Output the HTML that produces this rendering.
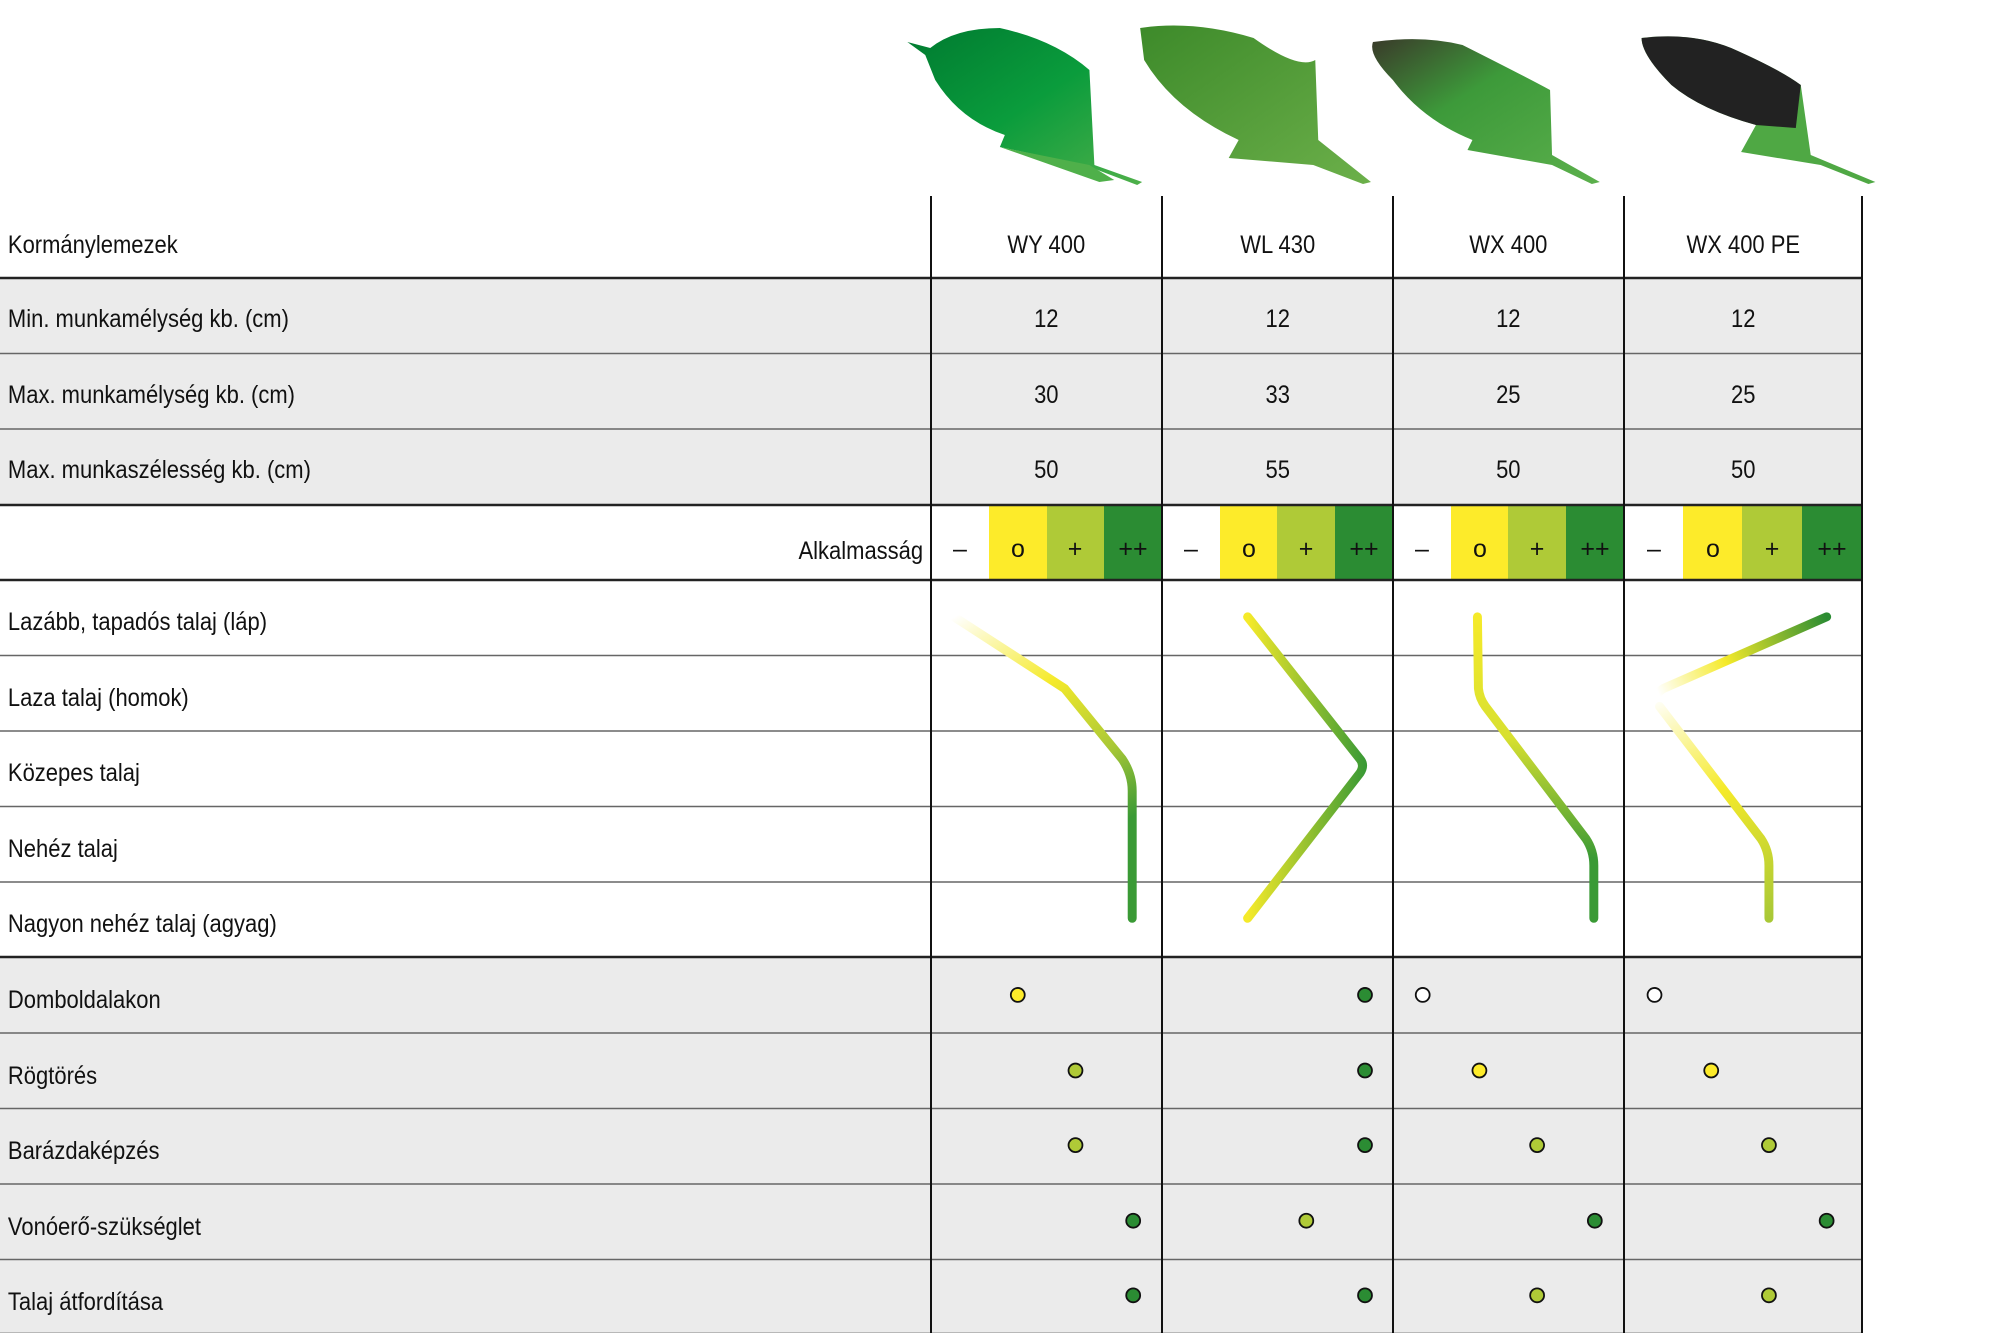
<!DOCTYPE html>
<html><head><meta charset="utf-8"><style>
html,body{margin:0;padding:0;background:#fff}
svg{display:block}
text{font-family:"Liberation Sans Narrow","Liberation Sans",sans-serif;font-size:25px;fill:#111}
</style></head><body>
<svg width="2000" height="1333" viewBox="0 0 2000 1333" xmlns="http://www.w3.org/2000/svg">
<defs>
<linearGradient id="g1" gradientUnits="userSpaceOnUse" x1="959" y1="620" x2="1138" y2="923"><stop offset="0" stop-color="#fff"/><stop offset="0.3" stop-color="#f5ea2a"/><stop offset="0.55" stop-color="#a9c836"/><stop offset="0.75" stop-color="#3a9a35"/></linearGradient>
<linearGradient id="g2" gradientUnits="userSpaceOnUse" x1="1254" y1="0" x2="1372" y2="0"><stop offset="0" stop-color="#f5ea2a"/><stop offset="1" stop-color="#3a9a35"/></linearGradient>
<linearGradient id="g3" gradientUnits="userSpaceOnUse" x1="0" y1="620" x2="0" y2="923"><stop offset="0" stop-color="#f5ea2a"/><stop offset="0.4" stop-color="#d8e030"/><stop offset="0.8" stop-color="#3a9a35"/></linearGradient>
<linearGradient id="g4a" gradientUnits="userSpaceOnUse" x1="1668" y1="699" x2="1836" y2="620"><stop offset="0" stop-color="#fff"/><stop offset="0.4" stop-color="#f5ea2a"/><stop offset="1" stop-color="#2b8c33"/></linearGradient>
<linearGradient id="g4b" gradientUnits="userSpaceOnUse" x1="1668" y1="699" x2="1778" y2="923"><stop offset="0" stop-color="#fff"/><stop offset="0.45" stop-color="#f5ea2a"/><stop offset="1" stop-color="#a9c836"/></linearGradient>
<linearGradient id="p1" x1="0" y1="0" x2="1" y2="1"><stop offset="0" stop-color="#007a30"/><stop offset="0.5" stop-color="#0a9c3c"/><stop offset="1" stop-color="#4fb04a"/></linearGradient>
<linearGradient id="p2" x1="0" y1="0" x2="1" y2="1"><stop offset="0" stop-color="#3d8a2a"/><stop offset="1" stop-color="#6cb04a"/></linearGradient>
<linearGradient id="p3" x1="0" y1="0" x2="1" y2="1"><stop offset="0" stop-color="#3a3a2a"/><stop offset="0.4" stop-color="#3d9a3a"/><stop offset="1" stop-color="#5cb04c"/></linearGradient>
</defs>
<!-- plows -->
<g transform="scale(0.9949,1)">
<path d="M912,42 L935,48 Q960,28 1005,28 Q1060,40 1095,70 L1100,165 L1148,182 L1143,185 L1090,165 L1005,147 L1010,135 Q965,120 940,80 L930,55 Z" fill="url(#p1)"/>
<path d="M1005,147 L1095,165 L1120,180 L1105,182 Z" fill="#4fb04a"/>
<path d="M1146,28 Q1200,20 1260,38 Q1305,70 1322,60 L1325,140 L1378,182 L1370,184 L1320,165 L1235,158 L1245,140 Q1180,110 1150,60 Z" fill="url(#p2)"/>
<path d="M1380,42 Q1430,35 1470,45 Q1530,75 1558,90 L1560,155 L1608,182 L1600,184 L1560,165 L1475,150 L1480,140 Q1430,120 1400,80 Q1375,55 1380,42 Z" fill="url(#p3)"/>
<path d="M1650,38 Q1700,32 1740,48 Q1790,70 1810,85 L1820,155 L1885,182 L1878,184 L1830,165 L1750,152 L1765,125 Q1710,110 1680,85 Q1650,55 1650,38 Z" fill="#4fa844"/>
<path d="M1650,38 Q1700,32 1740,48 Q1790,70 1810,85 L1805,128 L1765,125 Q1710,110 1680,85 Q1650,55 1650,38 Z" fill="#222"/>
</g>
<!-- backgrounds -->
<rect x="0" y="278" width="1862" height="227" fill="#ebebeb"/>
<rect x="0" y="957" width="1862" height="378" fill="#ebebeb"/>
<!-- suitability cells -->
<g>
<rect x="989" y="505" width="58" height="75" fill="#fdeb2a"/><rect x="1047" y="505" width="57" height="75" fill="#afca37"/><rect x="1104" y="505" width="58" height="75" fill="#2b8c33"/>
<rect x="1220" y="505" width="57" height="75" fill="#fdeb2a"/><rect x="1277" y="505" width="58" height="75" fill="#afca37"/><rect x="1335" y="505" width="58" height="75" fill="#2b8c33"/>
<rect x="1451" y="505" width="57" height="75" fill="#fdeb2a"/><rect x="1508" y="505" width="58" height="75" fill="#afca37"/><rect x="1566" y="505" width="58" height="75" fill="#2b8c33"/>
<rect x="1683" y="505" width="59" height="75" fill="#fdeb2a"/><rect x="1742" y="505" width="60" height="75" fill="#afca37"/><rect x="1802" y="505" width="60" height="75" fill="#2b8c33"/>
</g>
<!-- horizontal lines -->
<g stroke="#666" stroke-width="1.5">
<line x1="0" y1="353.5" x2="1862" y2="353.5"/><line x1="0" y1="429" x2="1862" y2="429"/>
<line x1="0" y1="655.5" x2="1862" y2="655.5"/><line x1="0" y1="731" x2="1862" y2="731"/><line x1="0" y1="806.5" x2="1862" y2="806.5"/><line x1="0" y1="882" x2="1862" y2="882"/>
<line x1="0" y1="1033" x2="1862" y2="1033"/><line x1="0" y1="1108.5" x2="1862" y2="1108.5"/><line x1="0" y1="1184" x2="1862" y2="1184"/><line x1="0" y1="1259.5" x2="1862" y2="1259.5"/>
</g>
<g stroke="#222" stroke-width="2.5">
<line x1="0" y1="278" x2="1862" y2="278"/><line x1="0" y1="505" x2="1862" y2="505"/><line x1="0" y1="580" x2="1862" y2="580"/><line x1="0" y1="957" x2="1862" y2="957"/><line x1="0" y1="1334" x2="1862" y2="1334"/>
</g>
<g stroke="#111" stroke-width="2">
<line x1="931" y1="196" x2="931" y2="1333"/><line x1="1162" y1="196" x2="1162" y2="1333"/><line x1="1393" y1="196" x2="1393" y2="1333"/><line x1="1624" y1="196" x2="1624" y2="1333"/><line x1="1862" y1="196" x2="1862" y2="1333"/>
</g>
<g transform="scale(0.9949)">
<!-- curves -->
<g fill="none" stroke-width="9" stroke-linecap="round" stroke-linejoin="round">
<path d="M959,620 L1070,692 L1128,763 Q1138,778 1138,795 L1138,923" stroke="url(#g1)"/>
<path d="M1254,620 L1367,763 Q1372,769 1367,777 L1254,923" stroke="url(#g2)"/>
<path d="M1485,620 L1486,692 Q1487,702 1493,710 L1594,843 Q1602,855 1602,870 L1602,923" stroke="url(#g3)"/>
<path d="M1836,620 L1672,692 Q1660,699 1668,710" stroke="url(#g4a)"/>
<path d="M1668,710 L1770,843 Q1778,855 1778,870 L1778,923" stroke="url(#g4b)"/>
</g>
<!-- dots -->
<g stroke="#111" stroke-width="1.8">
<circle cx="1023" cy="1000" r="7" fill="#fdeb2a"/><circle cx="1372" cy="1000" r="7" fill="#2b8c33"/><circle cx="1430" cy="1000" r="7" fill="#fff"/><circle cx="1663" cy="1000" r="7" fill="#fff"/>
<circle cx="1081" cy="1076" r="7" fill="#afca37"/><circle cx="1372" cy="1076" r="7" fill="#2b8c33"/><circle cx="1487" cy="1076" r="7" fill="#fdeb2a"/><circle cx="1720" cy="1076" r="7" fill="#fdeb2a"/>
<circle cx="1081" cy="1151" r="7" fill="#afca37"/><circle cx="1372" cy="1151" r="7" fill="#2b8c33"/><circle cx="1545" cy="1151" r="7" fill="#afca37"/><circle cx="1778" cy="1151" r="7" fill="#afca37"/>
<circle cx="1139" cy="1227" r="7" fill="#2b8c33"/><circle cx="1313" cy="1227" r="7" fill="#afca37"/><circle cx="1603" cy="1227" r="7" fill="#2b8c33"/><circle cx="1836" cy="1227" r="7" fill="#2b8c33"/>
<circle cx="1139" cy="1302" r="7" fill="#2b8c33"/><circle cx="1372" cy="1302" r="7" fill="#2b8c33"/><circle cx="1545" cy="1302" r="7" fill="#afca37"/><circle cx="1778" cy="1302" r="7" fill="#afca37"/>
</g>
</g>
<!-- texts -->
<g transform="scale(0.88,1)">
<text x="9" y="253">Kormánylemezek</text>
<text x="9" y="327">Min. munkamélység kb. (cm)</text>
<text x="9" y="403">Max. munkamélység kb. (cm)</text>
<text x="9" y="478">Max. munkaszélesség kb. (cm)</text>
<text x="1049" y="559" text-anchor="end">Alkalmasság</text>
<text x="9" y="630">Lazább, tapadós talaj (láp)</text>
<text x="9" y="706">Laza talaj (homok)</text>
<text x="9" y="781">Közepes talaj</text>
<text x="9" y="857">Nehéz talaj</text>
<text x="9" y="932">Nagyon nehéz talaj (agyag)</text>
<text x="9" y="1008">Domboldalakon</text>
<text x="9" y="1084">Rögtörés</text>
<text x="9" y="1159">Barázdaképzés</text>
<text x="9" y="1235">Vonóerő-szükséglet</text>
<text x="9" y="1310">Talaj átfordítása</text>
<g text-anchor="middle">
<text x="1189" y="253">WY 400</text><text x="1452" y="253">WL 430</text><text x="1714" y="253">WX 400</text><text x="1981" y="253">WX 400 PE</text>
<text x="1189" y="327">12</text><text x="1452" y="327">12</text><text x="1714" y="327">12</text><text x="1981" y="327">12</text>
<text x="1189" y="403">30</text><text x="1452" y="403">33</text><text x="1714" y="403">25</text><text x="1981" y="403">25</text>
<text x="1189" y="478">50</text><text x="1452" y="478">55</text><text x="1714" y="478">50</text><text x="1981" y="478">50</text>
</g>
</g>
<g text-anchor="middle" style="font-size:20px">
<text x="960" y="557">–</text><text x="1018" y="557">o</text><text x="1075" y="557">+</text><text x="1133" y="557">++</text>
<text x="1191" y="557">–</text><text x="1249" y="557">o</text><text x="1306" y="557">+</text><text x="1364" y="557">++</text>
<text x="1422" y="557">–</text><text x="1480" y="557">o</text><text x="1537" y="557">+</text><text x="1595" y="557">++</text>
<text x="1654" y="557">–</text><text x="1713" y="557">o</text><text x="1772" y="557">+</text><text x="1832" y="557">++</text>
</g>
</svg>
</body></html>
